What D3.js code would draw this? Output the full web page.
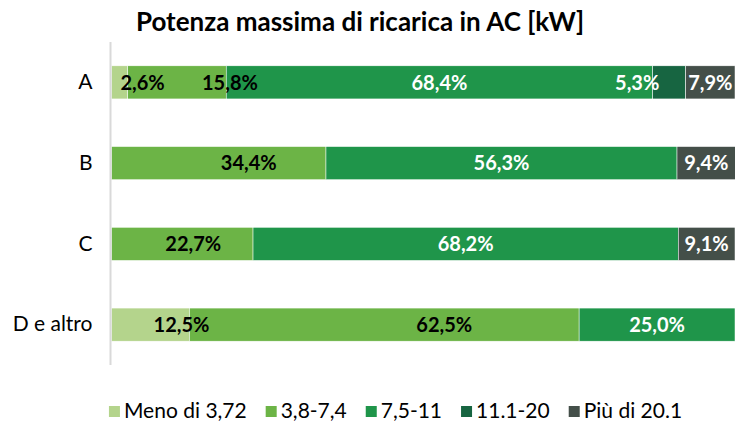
<!DOCTYPE html>
<html>
<head>
<meta charset="utf-8">
<script src="https://cdn.jsdelivr.net/npm/d3@7"></script>
<style>
  body { margin: 0; background: white; }
  svg { display: block; font-family: Lato, "Open Sans", sans-serif; }
</style>
</head>
<body>
<div id="chart"></div>
<script>
// data
var categories = ['A', 'B', 'C', 'D e altro'];
var series = ['Meno di 3,72', '3,8-7,4', '7,5-11', '11.1-20', 'Più di 20.1'];
var meno_372 = [2.6, 0, 0, 12.5];
var da_38_74 = [15.8, 34.4, 22.7, 62.5];
var da_75_11 = [68.4, 56.3, 68.2, 25.0];
var da_111_20 = [5.3, 0, 0, 0];
var piu_201 = [7.9, 9.4, 9.1, 0];

var series_values = [meno_372, da_38_74, da_75_11, da_111_20, piu_201];

var width = 735;
var height = 423;

var colors = ['#b4d48c', '#6cb446', '#1f954a', '#176541', '#444f49'];
var label_colors = ['#000', '#000', '#fff', '#fff', '#fff'];

// manual nudges of data labels (as in the original, some are shifted)
var label_nudge = {
  'A|0': 23, 'A|1': 53, 'A|3': -32,
  'B|1': 30,
  'C|1': 11,
  'D e altro|0': 31, 'D e altro|1': 60
};

var rows = categories.map(function(cat, i){
  var row = {cat: cat};
  series.forEach(function(s, j){ row[s] = series_values[j][i]; });
  return row;
});

var stack = d3.stack().keys(series)(rows);

var svg = d3.select('#chart')
  .append('svg')
  .attr('width', width)
  .attr('height', height);

var x = d3.scaleLinear()
  .domain([0, 100])
  .range([111.5, 735]);

var y = d3.scaleBand()
  .domain(categories)
  .range([42, 365])
  .paddingInner(0.59)
  .paddingOuter(0.295);

// title
svg.append('text')
  .text('Potenza massima di ricarica in AC [kW]')
  .attr('x', 360)
  .attr('y', 31)
  .style('text-anchor', 'middle')
  .style('font-weight', 700)
  .style('font-size', '26px')
  .style('fill', '#000');

// bars
var layer = svg.append('g')
  .selectAll('g')
  .data(stack)
  .enter()
  .append('g')
  .style('fill', function(d, i){ return colors[i]; });

layer.selectAll('rect')
  .data(function(d){ return d; })
  .enter()
  .append('rect')
  .attr('x', function(d){ return x(d[0]); })
  .attr('y', function(d){ return y(d.data.cat); })
  .attr('width', function(d){ return x(d[1]) - x(d[0]); })
  .attr('height', y.bandwidth())
  .style('stroke', 'white')
  .style('stroke-width', 0.5)
  .style('display', function(d){ return d[1] - d[0] > 0 ? null : 'none'; });

// axis (only the line and category names)
var y_axis = svg.append('g')
  .attr('transform', 'translate(110.5,0)')
  .call(d3.axisLeft(y).tickSize(0).tickPadding(18));

y_axis.select('.domain')
  .attr('d', 'M0,42V365')
  .style('stroke', '#d9d9d9')
  .style('stroke-width', 2);

y_axis.selectAll('text')
  .style('font-family', 'Lato, sans-serif')
  .style('font-size', '21px')
  .style('fill', '#000');

// data labels, on top of all bars
var label_layer = svg.append('g');
stack.forEach(function(s, si){
  label_layer.append('g')
    .selectAll('text')
    .data(s.filter(function(d){ return d[1] - d[0] > 0; }))
    .enter()
    .append('text')
    .text(function(d){ return (d[1] - d[0]).toFixed(1).replace('.', ',') + '%'; })
    .attr('x', function(d){
      var nudge = label_nudge[d.data.cat + '|' + si] || 0;
      return (x(d[0]) + x(d[1])) / 2 + nudge;
    })
    .attr('y', function(d){ return y(d.data.cat) + y.bandwidth() / 2; })
    .attr('dy', '0.36em')
    .style('text-anchor', 'middle')
    .style('font-weight', 700)
    .style('font-size', '20px')
    .style('fill', label_colors[si]);
});

// legend
var legend = svg.append('g');
var legend_items = legend.selectAll('g')
  .data(series)
  .enter()
  .append('g');

legend_items.append('rect')
  .attr('width', 11)
  .attr('height', 11)
  .attr('y', -12)
  .style('fill', function(d, i){ return colors[i]; });

legend_items.append('text')
  .text(function(d){ return d; })
  .attr('x', 15)
  .attr('y', 0)
  .style('font-size', '21px')
  .style('fill', '#000');

var gap = 19;
var offsets = [];
var cur = 0;
legend_items.each(function(d, i){
  var w = 15 + d3.select(this).select('text').node().getComputedTextLength();
  offsets.push(cur);
  cur += w + gap;
});
var total = cur - gap;
var legend_x0 = 395.5 - total / 2;

legend_items.attr('transform', function(d, i){
  return 'translate(' + (legend_x0 + offsets[i]) + ',418)';
});
</script>
</body>
</html>
